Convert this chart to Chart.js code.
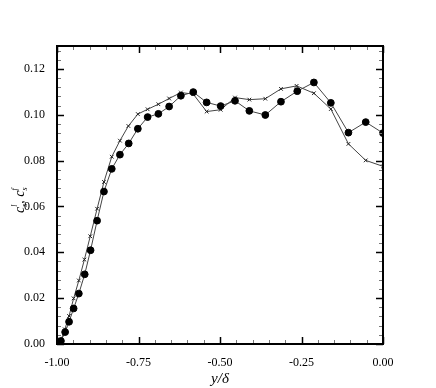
<!DOCTYPE html>
<html>
<head>
<meta charset="utf-8">
<script src="https://cdn.jsdelivr.net/npm/chart.js@4/dist/chart.umd.min.js"></script>
<style>
  body { margin: 0; background: #fff; }
  canvas { display: block; }
</style>
</head>
<body>
<canvas id="chart" width="436" height="388"></canvas>
<script>
// values
const circleX = [-0.988, -0.975, -0.963, -0.949, -0.933, -0.915, -0.897, -0.877, -0.856, -0.832, -0.807, -0.780, -0.752, -0.722, -0.689, -0.656, -0.620, -0.582, -0.541, -0.498, -0.454, -0.410, -0.361, -0.313, -0.263, -0.212, -0.160, -0.106, -0.053, 0.0];
const circleY = [0.0013, 0.0052, 0.0097, 0.0155, 0.0220, 0.0304, 0.0409, 0.0538, 0.0665, 0.0764, 0.0826, 0.0875, 0.0939, 0.0990, 0.1004, 0.1036, 0.1083, 0.1099, 0.1054, 0.1038, 0.1061, 0.1017, 0.0999, 0.1057, 0.1103, 0.1141, 0.1052, 0.0922, 0.0968, 0.0920];
const crossX = [-0.988, -0.976, -0.963, -0.949, -0.933, -0.916, -0.898, -0.877, -0.856, -0.832, -0.807, -0.781, -0.752, -0.722, -0.689, -0.656, -0.620, -0.582, -0.541, -0.498, -0.454, -0.410, -0.361, -0.313, -0.265, -0.212, -0.160, -0.106, -0.053, 0.0];
const crossY = [0.0015, 0.0064, 0.0122, 0.0199, 0.0277, 0.0368, 0.0470, 0.0590, 0.0707, 0.0817, 0.0887, 0.0951, 0.1003, 0.1024, 0.1046, 0.1071, 0.1097, 0.1090, 0.1014, 0.1022, 0.1075, 0.1066, 0.1070, 0.1113, 0.1126, 0.1094, 0.1025, 0.0873, 0.0801, 0.0775];
const xTicks = [-1.0, -0.75, -0.5, -0.25, 0.0];
const yTicks = [0.0, 0.02, 0.04, 0.06, 0.08, 0.1, 0.12];
const xMinorStep = 0.05;
const yMinorStep = 0.004;

const toPts = (xs, ys) => xs.map((x, i) => ({ x: x, y: ys[i] }));
const serif = "'Liberation Serif', 'Times New Roman', serif";

const frame = {
  id: "frame",
  afterDraw(chart) {
    const ctx = chart.ctx;
    const a = chart.chartArea;
    const xs = chart.scales.x, ys = chart.scales.y;
    ctx.save();
    // minor ticks
    ctx.lineWidth = 1;
    ctx.strokeStyle = "#777";
    ctx.beginPath();
    for (let v = -1; v <= 0.0001; v += xMinorStep) {
      const p = Math.round(xs.getPixelForValue(v)) + 0.5;
      ctx.moveTo(p, a.bottom); ctx.lineTo(p, a.bottom - 4);
      ctx.moveTo(p, a.top); ctx.lineTo(p, a.top + 4);
    }
    for (let v = 0; v <= 0.13; v += yMinorStep) {
      const p = Math.round(ys.getPixelForValue(v)) + 0.5;
      ctx.moveTo(a.left, p); ctx.lineTo(a.left + 4, p);
      ctx.moveTo(a.right, p); ctx.lineTo(a.right - 4, p);
    }
    ctx.stroke();
    // major ticks
    ctx.strokeStyle = "#000";
    ctx.lineWidth = 1.5;
    ctx.beginPath();
    xTicks.forEach(v => {
      const p = Math.round(xs.getPixelForValue(v)) + 0.5;
      ctx.moveTo(p, a.bottom); ctx.lineTo(p, a.bottom - 7);
      ctx.moveTo(p, a.top); ctx.lineTo(p, a.top + 7);
    });
    yTicks.forEach(v => {
      const p = Math.round(ys.getPixelForValue(v)) + 0.5;
      ctx.moveTo(a.left, p); ctx.lineTo(a.left + 7, p);
      ctx.moveTo(a.right, p); ctx.lineTo(a.right - 7, p);
    });
    ctx.stroke();
    // box
    ctx.lineWidth = 2;
    ctx.strokeRect(a.left, a.top, a.right - a.left, a.bottom - a.top);

    // y axis title: c_s^l, c_s^f (rotated)
    ctx.translate(24, 198);
    ctx.rotate(-Math.PI / 2);
    ctx.fillStyle = "#000";
    ctx.textBaseline = "alphabetic";
    ctx.textAlign = "left";
    let x = -15;
    ctx.font = "italic 14px " + serif;
    const cw = ctx.measureText("c").width;
    ctx.fillText("c", x, 0);
    ctx.font = "italic 8px " + serif;
    const sw = ctx.measureText("s").width;
    ctx.fillText("l", x + cw, -7);
    ctx.fillText("s", x + cw, 3);
    x += cw + sw;
    ctx.font = "14px " + serif;
    ctx.fillText(",", x, 0);
    x += ctx.measureText(", ").width;
    ctx.font = "italic 14px " + serif;
    ctx.fillText("c", x, 0);
    ctx.font = "italic 8px " + serif;
    ctx.fillText("f", x + cw, -7);
    ctx.fillText("s", x + cw, 3);
    ctx.restore();
  }
};

new Chart(document.getElementById("chart").getContext("2d"), {
  type: "scatter",
  data: {
    datasets: [
      {
        label: "circles",
        data: toPts(circleX, circleY),
        showLine: true,
        borderColor: "#444",
        borderWidth: 1,
        backgroundColor: "#000",
        pointBackgroundColor: "#000",
        pointBorderColor: "#000",
        pointStyle: "circle",
        pointRadius: 3.4,
        tension: 0
      },
      {
        label: "crosses",
        data: toPts(crossX, crossY),
        showLine: true,
        borderColor: "#444",
        borderWidth: 1,
        pointBorderColor: "#222",
        pointBackgroundColor: "#222",
        pointStyle: "crossRot",
        pointRadius: 2.6,
        pointBorderWidth: 1,
        tension: 0
      }
    ]
  },
  options: {
    responsive: false,
    animation: false,
    events: [],
    layout: { padding: { left: 0, top: 46, right: 53, bottom: 0 } },
    plugins: { legend: { display: false }, tooltip: { enabled: false } },
    scales: {
      x: {
        type: "linear",
        min: -1,
        max: 0,
        afterFit: s => { s.height = 44; },
        afterBuildTicks: s => { s.ticks = xTicks.map(v => ({ value: v })); },
        grid: { display: false },
        border: { display: false },
        ticks: {
          padding: 4,
          maxRotation: 0,
          color: "#000",
          font: { family: serif, size: 12 },
          callback: v => v.toFixed(2)
        },
        title: {
          display: true,
          text: "y/δ",
          color: "#000",
          padding: { top: 0, bottom: 0 },
          font: { family: serif, size: 15, style: "italic" }
        }
      },
      y: {
        type: "linear",
        min: 0,
        max: 0.13,
        afterFit: s => { s.width = 57; },
        afterBuildTicks: s => { s.ticks = yTicks.map(v => ({ value: v })); },
        grid: { display: false },
        border: { display: false },
        ticks: {
          padding: 4,
          color: "#000",
          font: { family: serif, size: 12 },
          callback: v => v.toFixed(2)
        }
      }
    }
  },
  plugins: [frame]
});
</script>
</body>
</html>
